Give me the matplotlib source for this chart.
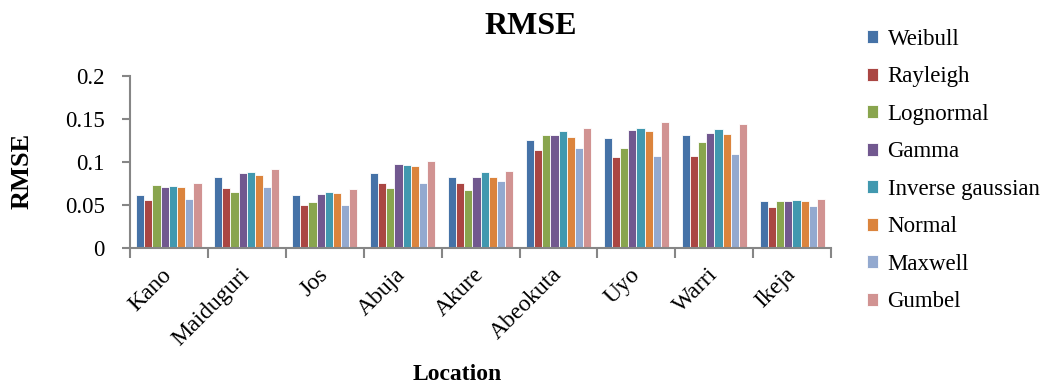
import matplotlib.pyplot as plt
import numpy as np

plt.rcParams['font.family'] = ['Liberation Serif', 'DejaVu Serif']

locations = ['Kano', 'Maiduguri', 'Jos', 'Abuja', 'Akure', 'Abeokuta', 'Uyo', 'Warri', 'Ikeja']
series = ['Weibull', 'Rayleigh', 'Lognormal', 'Gamma', 'Inverse gaussian', 'Normal', 'Maxwell', 'Gumbel']

weibull   = [0.061, 0.082, 0.061, 0.087, 0.082, 0.126, 0.128, 0.131, 0.054]
rayleigh  = [0.056, 0.070, 0.050, 0.075, 0.076, 0.114, 0.106, 0.107, 0.048]
lognormal = [0.073, 0.065, 0.053, 0.070, 0.067, 0.131, 0.116, 0.123, 0.054]
gamma     = [0.071, 0.087, 0.063, 0.097, 0.083, 0.131, 0.137, 0.133, 0.054]
inv_gauss = [0.072, 0.088, 0.065, 0.096, 0.088, 0.136, 0.139, 0.138, 0.056]
normal    = [0.071, 0.085, 0.064, 0.095, 0.082, 0.129, 0.136, 0.132, 0.054]
maxwell   = [0.057, 0.071, 0.050, 0.075, 0.078, 0.116, 0.107, 0.109, 0.049]
gumbel    = [0.076, 0.092, 0.069, 0.101, 0.089, 0.139, 0.146, 0.144, 0.057]

values = [weibull, rayleigh, lognormal, gamma, inv_gauss, normal, maxwell, gumbel]
colors = ['#4572A7', '#AA4643', '#89A54E', '#71588F', '#4198AF', '#DB843D', '#93A9CF', '#D19392']

fig = plt.figure(figsize=(10.47, 3.85), dpi=100)
ax = fig.add_axes([0.124, 0.356, 0.67, 0.447])

x = np.arange(len(locations)) + 0.5
w = 0.84 / len(series)
for i, (name, vals) in enumerate(zip(series, values)):
    ax.bar(x - 0.42 + w * (i + 0.5), vals, w, color=colors[i], label=name,
           edgecolor='white', linewidth=0.6)

ax.set_xlim(0, len(locations))
ax.set_ylim(0, 0.2)
ax.set_yticks([0, 0.05, 0.1, 0.15, 0.2])
ax.set_yticklabels(['0', '0.05', '0.1', '0.15', '0.2'], fontsize=16.5)
ax.set_xticks(x)
ax.set_xticklabels(locations, fontsize=17, rotation=45, ha='right', va='center',
                   rotation_mode='anchor')
ax.tick_params(axis='x', length=0, pad=17)
ax.set_xticks(np.arange(len(locations) + 1), minor=True)
ax.tick_params(axis='x', which='minor', length=7, color='#868686', width=1.5)
ax.tick_params(axis='y', length=6, color='#868686', width=1.5, pad=12)

for s in ['top', 'right']:
    ax.spines[s].set_visible(False)
for s in ['left', 'bottom']:
    ax.spines[s].set_color('#868686')
    ax.spines[s].set_linewidth(1.5)

fig.text(0.021, 0.557, 'RMSE', fontsize=19, fontweight='bold', rotation=90,
         ha='center', va='center')
fig.text(0.507, 0.932, 'RMSE', fontsize=23, fontweight='bold', ha='center', va='center')
fig.text(0.437, 0.026, 'Location', fontsize=17, fontweight='bold', ha='center', va='center')

ax.legend(loc='upper left', bbox_to_anchor=(0.828, 0.925), bbox_transform=fig.transFigure,
          frameon=False, fontsize=16.5, handlelength=0.5, handleheight=0.5,
          handletextpad=0.4, labelspacing=0.72, borderpad=0, borderaxespad=0)

fig.savefig('out.png', dpi=100)
